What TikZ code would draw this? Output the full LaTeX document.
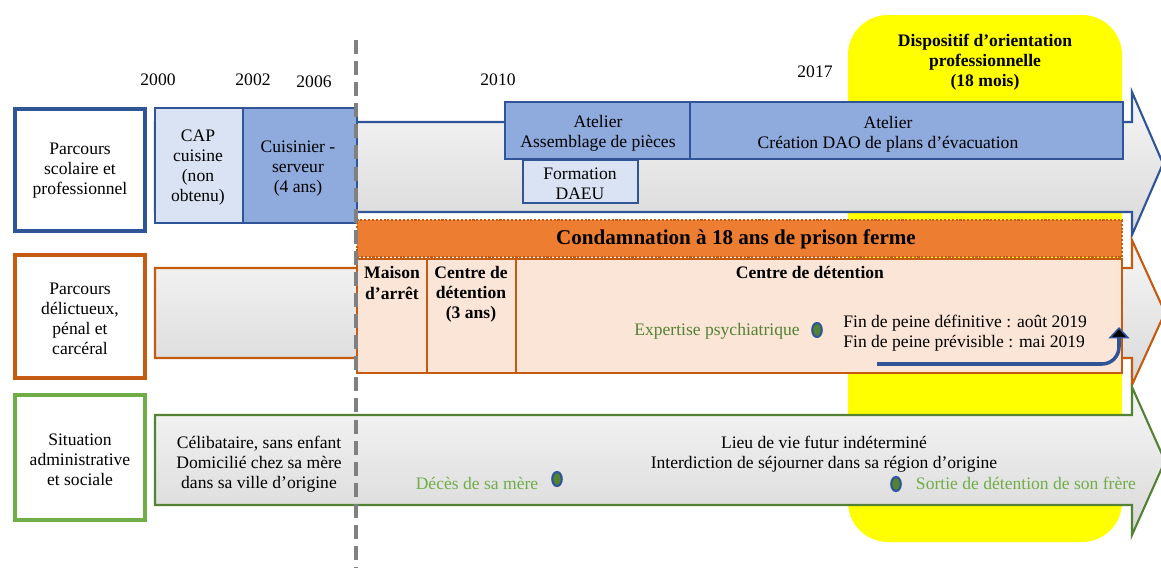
\documentclass[tikz,border=0pt]{standalone}
\usepackage{fontspec}
\setmainfont{Liberation Serif}
\usetikzlibrary{fit,shapes.geometric,arrows.meta}

\definecolor{darkblue}{HTML}{2F5597}
\definecolor{midblue}{HTML}{8FAADC}
\definecolor{paleblue}{HTML}{DAE3F3}
\definecolor{darkorange}{HTML}{C55A11}
\definecolor{midorange}{HTML}{ED7D31}
\definecolor{paleorange}{HTML}{FBE5D6}
\definecolor{lightgreen}{HTML}{70AD47}
\definecolor{darkgreen}{HTML}{548235}
\definecolor{brightyellow}{HTML}{FFFF00}

\begin{document}
\begin{tikzpicture}[x=0.02cm,y=-0.02cm,font=\fontsize{10}{11.4}\selectfont,
  hbox/.style={draw,line width=2.3pt,fill=white,inner sep=0pt},
  pbox/.style={draw=darkblue,line width=0.9pt,inner sep=0pt},
  obox/.style={draw=darkorange,line width=1.2pt,fill=paleorange,inner sep=0pt},
  band/.style={line width=1.2pt,top color=gray!7,bottom color=gray!30},
  evdot/.style={ellipse,draw=darkblue,line width=1.2pt,fill=darkgreen,minimum width=0.19cm,minimum height=0.28cm,inner sep=0pt},
  lbl/.style={align=center,inner sep=0pt},
  bold/.style={font=\fontsize{10}{11.4}\selectfont\bfseries}]

\useasboundingbox (0,0) rectangle (1161,568);

\node[fill=brightyellow,rounded corners=0.8cm,inner sep=0pt,fit={(848,15) (1122,542)}] (dispo) {};
\node[lbl,bold] (dispotxt) at (985,62) {Dispositif d’orientation\\professionnelle\\(18 mois)};


\path[band,draw=darkblue] (155,122) -- (1132,122) -- (1132,92) -- (1163,163.5) -- (1132,235) -- (1132,212) -- (155,212) -- cycle;
\path[band,draw=darkorange] (155,268) -- (1132,268) -- (1132,240) -- (1165,312.5) -- (1132,385) -- (1132,358) -- (155,358) -- cycle;
\path[band,draw=darkgreen] (155,415) -- (1132,415) -- (1132,387) -- (1165,461) -- (1132,535) -- (1132,505) -- (155,505) -- cycle;


\node[hbox,draw=darkblue,fit={(15,109) (145,231)}] (hd1) {};
\node[hbox,draw=darkorange,fit={(15,255) (145,378)}] (hd2) {};
\node[hbox,draw=lightgreen,fit={(15,395) (145,520)}] (hd3) {};
\node[lbl] (hd1txt) at (80,171) {Parcours\\scolaire et\\professionnel};
\node[lbl] (hd2txt) at (80,318.5) {Parcours\\délictueux,\\pénal et\\carcéral};
\node[lbl] (hd3txt) at (80,460) {Situation\\administrative\\et sociale};

\node[lbl] (y2000) at (158,80) {2000};
\node[lbl] (y2002) at (253,80) {2002};
\node[lbl] (y2006) at (314,82) {2006};
\node[lbl] (y2010) at (498,80) {2010};
\node[lbl] (y2017) at (815,72) {2017};


\node[pbox,fill=paleblue,fit={(155,108) (243,223)}] (cap) {};
\node[pbox,fill=midblue,fit={(243,108) (357,223)}] (cuis) {};
\node[pbox,fill=midblue,fit={(505,102) (690,159)}] (atel1) {};
\node[pbox,fill=midblue,fit={(690,102) (1123,159)}] (atel2) {};
\node[pbox,fill=paleblue,fit={(523,160) (638,203)}] (daeu) {};
\node[lbl] (captxt) at (198,168) {CAP\\cuisine\\(non\\obtenu)};
\node[lbl] (cuistxt) at (298,169) {Cuisinier -\\serveur\\(4 ans)};
\node[lbl] (atel1txt) at (598,133.5) {Atelier\\Assemblage de pièces};
\node[lbl] (atel2txt) at (888,134) {Atelier\\Création DAO de plans d’évacuation};
\node[lbl] (daeutxt) at (580,184) {Formation\\DAEU};


\node[draw=darkorange,densely dotted,line width=1.2pt,fill=midorange,inner sep=0pt,fit={(357,220) (1122,257)}] (cond) {};
\node[lbl,font=\fontsize{12}{14}\selectfont\bfseries] (condtxt) at (736,239) {Condamnation à 18 ans de prison ferme};

\node[obox,fit={(357,259) (427,373)}] (maison) {};
\node[obox,fit={(427,259) (516,373)}] (cdt1) {};
\node[obox,fit={(516,259) (1122,373)}] (cdt2) {};
\node[lbl,bold] (maisontxt) at (392,283) {Maison\\d’arrêt};
\node[lbl,bold] (cdt1txt) at (471,294) {Centre de\\détention\\(3 ans)};
\node[lbl,bold] (cdt2txt) at (810,272) {Centre de détention};

\node[lbl,text=darkgreen] (expert) at (717,331.5) {Expertise psychiatrique};
\node[evdot] (dot1) at (817,330) {};
\node[lbl,align=left,anchor=west] (finpeine) at (843,333) {Fin de peine définitive : août 2019\\Fin de peine prévisible : mai 2019};

\coordinate (finstart) at (877,364);
\coordinate (fintip) at (1119,327);
\draw[darkblue,line width=2pt,rounded corners=0.34cm,-{Triangle[width=12pt,length=6.5pt,fill=black,line width=0.9pt]}] (finstart) -| (fintip);


\node[lbl] (celib) at (259,464) {Célibataire, sans enfant\\Domicilié chez sa mère\\dans sa ville d’origine};
\node[lbl] (lieu) at (824,454.5) {Lieu de vie futur indéterminé\\Interdiction de séjourner dans sa région d’origine};
\node[lbl,text=lightgreen] (deces) at (477,483) {Décès de sa mère};
\node[evdot] (dot2) at (557,479) {};
\node[evdot] (dot3) at (896,484) {};
\node[lbl,text=lightgreen] (frere) at (1026,483) {Sortie de détention de son frère};


\coordinate (cuttop) at (356,40);
\coordinate (cutbot) at (356,568);
\draw[gray,line width=2.3pt,dash pattern=on 8pt off 4pt] (cuttop) -- (cutbot);

\end{tikzpicture}
\end{document}
